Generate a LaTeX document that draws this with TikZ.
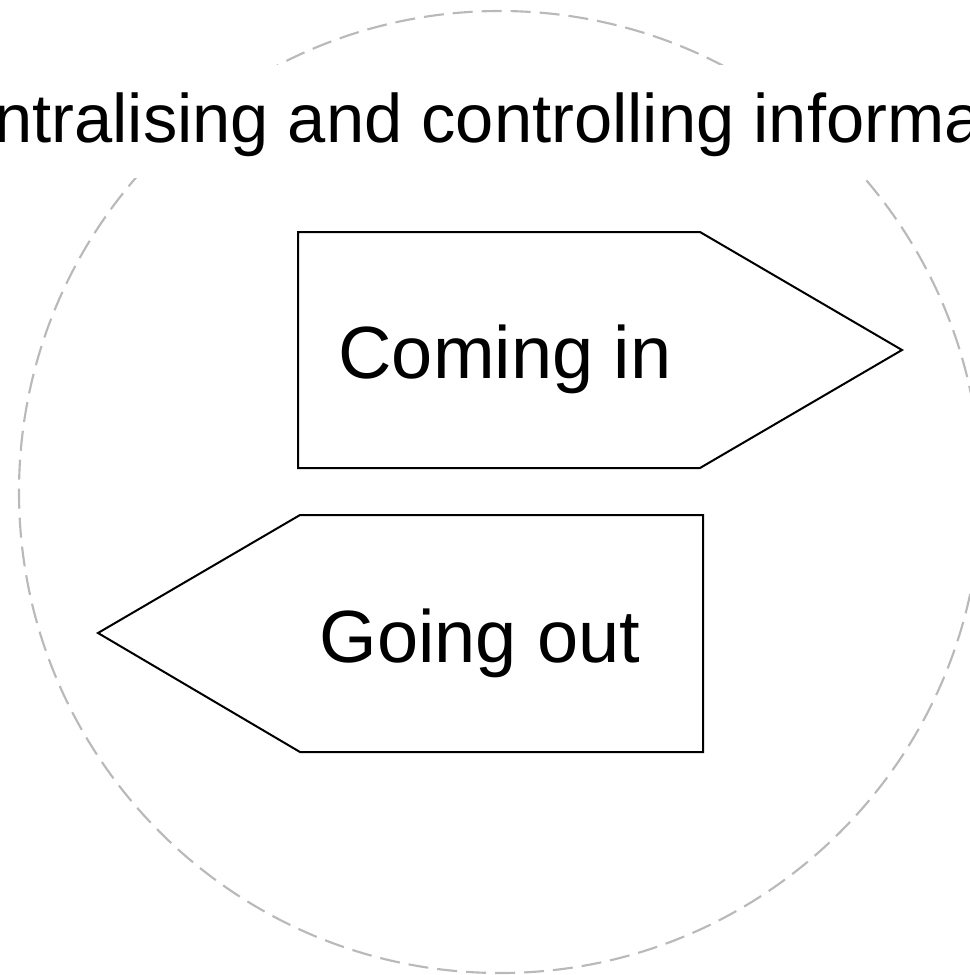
\documentclass[tikz,border=0pt]{standalone}
\usepackage{fontspec}
\setmainfont{Liberation Sans}
\definecolor{ringgray}{RGB}{185,185,185}
\tikzset{
  ring/.style={draw=ringgray, line width=1.6pt, dash pattern=on 15pt off 6.75pt},
  arrowshape/.style={draw=black, line width=1.5pt, fill=white, line join=miter},
  titletext/.style={fill=white, inner xsep=0pt, inner ysep=0pt, anchor=base,
    text height=57.75pt, text depth=27pt, font=\fontsize{51.5}{62}\selectfont},
  signtext/.style={inner sep=0pt, anchor=base, font=\fontsize{55.5}{66}\selectfont}
}
\begin{document}
\begin{tikzpicture}[x=0.75pt, y=-0.75pt]
\useasboundingbox (0,0) rectangle (970,975);
\coordinate (c) at (500,492);
\draw[ring] (c) circle[radius=360.75pt];
\node[titletext] (title) at (500,142) {Centralising and controlling information};
% Coming in
\coordinate (i1) at (298,232);
\coordinate (i2) at (700,232);
\coordinate (i3) at (902,350);
\coordinate (i4) at (700,468);
\coordinate (i5) at (298,468);
\draw[arrowshape] (i1) -- (i2) -- (i3) -- (i4) -- (i5) -- cycle;
\node[signtext] (in) at (505,378) {Coming in};
% Going out
\coordinate (o1) at (300,515);
\coordinate (o2) at (703,515);
\coordinate (o3) at (703,752);
\coordinate (o4) at (300,752);
\coordinate (o5) at (98,633);
\draw[arrowshape] (o1) -- (o2) -- (o3) -- (o4) -- (o5) -- cycle;
\node[signtext] (out) at (480,662) {Going out};
\end{tikzpicture}
\end{document}
